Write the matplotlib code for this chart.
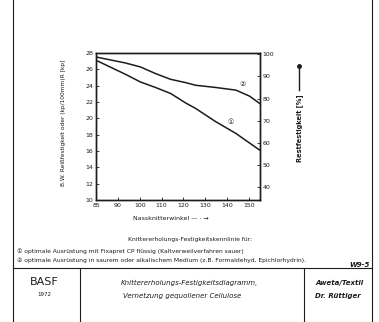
import numpy as np
import matplotlib
matplotlib.use("Agg")
import matplotlib.pyplot as plt
from matplotlib.lines import Line2D

# Nassknitterwinkel ticks (drawn evenly spaced on the original sheet)
x_ticks = [85, 90, 100, 110, 120, 130, 140, 150]
x_tick_pos = [0, 1, 2, 3, 4, 5, 6, 7]

left_ticks = [10, 12, 14, 16, 18, 20, 22, 24, 26, 28]
right_ticks = [40, 50, 60, 70, 80, 90, 100]

# curve 2: optimale Ausruestung in saurem oder alkalischem Medium
angle_2 = [85, 93.4, 100.3, 107.2, 114.1, 121.0, 125.6, 134.8, 144.0, 150.2, 154.8]
rest_2 = [98.8, 96.1, 94.3, 91.3, 88.7, 87.2, 86.0, 85.0, 83.8, 81.1, 77.8]

# curve 1: optimale Ausruestung mit Fixapret CP fluessig
angle_1 = [85, 88.2, 93.4, 100.3, 107.2, 114.1, 121.0, 125.6, 134.8, 144.0, 154.8]
rest_1 = [97.3, 94.3, 91.0, 87.5, 85.0, 82.3, 78.0, 75.5, 69.5, 64.2, 56.7]

ink = "#1c1c1c"

# uneven angle axis -> even positions
_a = [80] + x_ticks + [160]
_p = [-1] + x_tick_pos + [8]


def fwd(a):
    return np.interp(a, _a, _p)


def inv(p):
    return np.interp(p, _p, _a)


fig = plt.figure(figsize=(3.79, 3.22), dpi=100)
ax = fig.add_axes([0.2533, 0.3789, 0.4327, 0.4565])
ax.set_xscale("function", functions=(fwd, inv))
ax.set_xlim(85, 155)
ax.set_ylim(10, 28)
ax.set_xticks(x_ticks)
ax.set_xticklabels([str(t) for t in x_ticks])
ax.set_yticks(left_ticks)
ax.tick_params(axis="both", direction="in", length=2, width=0.6, labelsize=4.5,
               colors=ink, pad=2)
for s in ax.spines.values():
    s.set_linewidth(1.0)
    s.set_color(ink)

ax2 = ax.twinx()
ax2.set_ylim(34.1, 100.6)
ax2.set_yticks(right_ticks)
ax2.tick_params(axis="y", direction="in", length=2, width=0.6, labelsize=4.5,
                colors=ink, pad=2)
for s in ax2.spines.values():
    s.set_linewidth(1.0)
    s.set_color(ink)

ax2.plot(angle_2, rest_2, color=ink, lw=1.1)
ax2.plot(angle_1, rest_1, color=ink, lw=1.1)
ax2.text(147, 86.8, "②", fontsize=5, color=ink, ha="center", va="center")
ax2.text(141.7, 69.5, "①", fontsize=5, color=ink, ha="center", va="center")

# axis titles
fig.text(0.167, 0.39 + 0.23, "B.W. Reißfestigkeit oder (kp/100mm)R [kp]",
         rotation=90, fontsize=4.2, color=ink, ha="center", va="center")
fig.text(0.45, 1 - 218 / 322, "Nassknitterwinkel — · →", fontsize=4.5,
         color=ink, ha="center", va="center")
fig.text(0.79, 1 - 128 / 322, "Restfestigkeit [%]", rotation=90, fontsize=4.8,
         fontweight="bold", color=ink, ha="center", va="center")
fig.add_artist(Line2D([0.79, 0.79], [1 - 90 / 322, 1 - 66 / 322], color=ink,
                      lw=1.0, marker="o", markevery=[1], markersize=2.5))

# legend text
fig.text(0.50, 1 - 240 / 322, "Knittererholungs-Festigkeitskennlinie für:",
         fontsize=4.3, color=ink, ha="center", va="center")
fig.text(0.045, 1 - 251 / 322,
         "① optimale Ausrüstung mit Fixapret CP flüssig (Kaltverweilverfahren sauer)",
         fontsize=4.3, color=ink, ha="left", va="center")
fig.text(0.045, 1 - 260 / 322,
         "② optimale Ausrüstung in saurem oder alkalischem Medium (z.B. Formaldehyd, Epichlorhydrin).",
         fontsize=4.3, color=ink, ha="left", va="center")
fig.text(0.975, 1 - 265 / 322, "W9-5", fontsize=5, fontweight="bold",
         style="italic", color=ink, ha="right", va="center")

# sheet frame and title block
fig.add_artist(Line2D([0.035, 0.035], [0, 1], color=ink, lw=0.8))
fig.add_artist(Line2D([0.982, 0.982], [0, 1], color=ink, lw=0.8))
fig.add_artist(Line2D([0.035, 0.982], [1 - 268 / 322] * 2, color=ink, lw=0.8))
fig.add_artist(Line2D([0.211, 0.211], [0, 1 - 268 / 322], color=ink, lw=0.8))
fig.add_artist(Line2D([0.802, 0.802], [0, 1 - 268 / 322], color=ink, lw=0.8))

fig.text(0.118, 1 - 282 / 322, "BASF", fontsize=8, color=ink,
         ha="center", va="center")
fig.text(0.118, 1 - 294 / 322, "1972", fontsize=4, color=ink,
         ha="center", va="center")
fig.text(0.50, 1 - 283 / 322, "Knittererholungs-Festigkeitsdiagramm,",
         fontsize=5, style="italic", color=ink, ha="center", va="center")
fig.text(0.48, 1 - 296 / 322, "Vernetzung gequollener Cellulose",
         fontsize=5, style="italic", color=ink, ha="center", va="center")
fig.text(0.895, 1 - 283 / 322, "Aweta/Textil", fontsize=5, fontweight="bold",
         style="italic", color=ink, ha="center", va="center")
fig.text(0.892, 1 - 296 / 322, "Dr. Rüttiger", fontsize=5, fontweight="bold",
         style="italic", color=ink, ha="center", va="center")

fig.savefig("out.png", dpi=100, facecolor="white")
